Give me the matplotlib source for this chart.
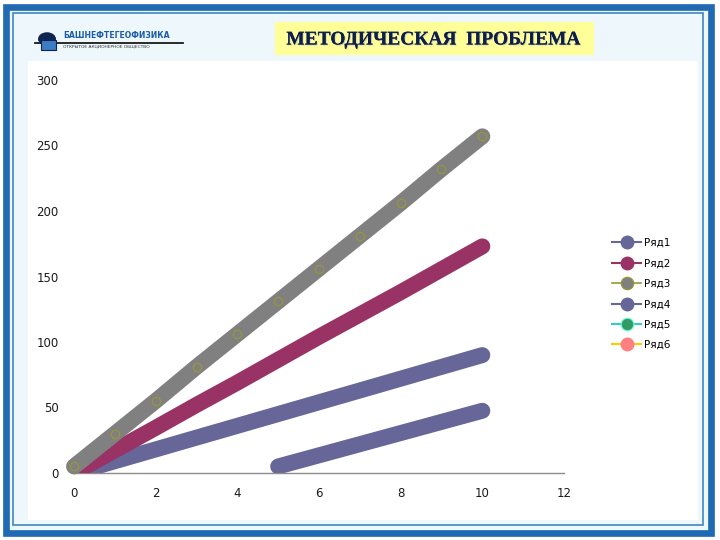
import matplotlib
matplotlib.use('Agg')
import matplotlib.pyplot as plt
from matplotlib.patches import Rectangle, Circle
from matplotlib.lines import Line2D
import matplotlib.patheffects as pe

# series data
x_full = [0, 1, 2, 3, 4, 5, 6, 7, 8, 9, 10]
ryad1 = [0, 9, 18, 27, 36, 45, 54, 63, 72, 81, 90]
ryad2 = [0, 17.3, 34.5, 52, 69, 86.5, 104, 121, 138, 155.5, 173]
ryad3 = [5, 30, 55, 81, 106, 131, 156, 181, 206, 232, 257]
x_half = [5, 6, 7, 8, 9, 10]
ryad4 = [5, 13.5, 22, 30.5, 39, 47.5]
ryad5 = []
ryad6 = []

labels = ['Ряд1', 'Ряд2', 'Ряд3', 'Ряд4', 'Ряд5', 'Ряд6']
xticks = [0, 2, 4, 6, 8, 10, 12]
yticks = [0, 50, 100, 150, 200, 250, 300]

W, H = 720, 540
fig = plt.figure(figsize=(7.2, 5.4), dpi=100)
fig.patch.set_facecolor('white')


def px_rect(x0, y0, x1, y1, **kw):
    # rectangle given in pixel coords (top-left origin)
    return Rectangle((x0 / W, 1 - y1 / H), (x1 - x0) / W, (y1 - y0) / H,
                     transform=fig.transFigure, **kw)


# slide frame
fig.patches.append(px_rect(6.5, 6.5, 710.5, 532.5, facecolor='#EEF8FC',
                           edgecolor='#1F6AB2', lw=4.8, zorder=0))
fig.patches.append(px_rect(13, 13, 703, 525, facecolor='none',
                           edgecolor='#3F86C6', lw=1.2, zorder=1))
fig.patches.append(px_rect(28, 61, 698, 520, facecolor='white',
                           edgecolor='none', zorder=1))

# title box
fig.patches.append(px_rect(275, 22, 594, 55, facecolor='#FFFF99',
                           edgecolor='none', zorder=2))
fig.text(434 / W, 1 - 40 / H, 'МЕТОДИЧЕСКАЯ  ПРОБЛЕМА', ha='center', va='center',
         fontsize=14, fontweight='bold', family='Liberation Serif', color='#0D1E4A',
         zorder=3, path_effects=[pe.withSimplePatchShadow(offset=(0.7, -0.7), shadow_rgbFace='#b0b0b0', alpha=0.6),
                                 pe.Normal()])

# logo
fig.lines.append(Line2D([35 / W, 183 / W], [1 - 43 / H, 1 - 43 / H], transform=fig.transFigure,
                        color='#1a1a1a', lw=1.3, zorder=2))
fig.patches.append(Circle((47 / W, 1 - 39 / H), 9 / W, transform=fig.transFigure,
                          facecolor='#0F2450', edgecolor='none', zorder=3))
fig.patches.append(px_rect(41, 40, 56, 50, facecolor='#3C7CC4', edgecolor='#0F2450',
                           lw=0.8, zorder=4))
fig.text(63 / W, 1 - 35 / H, 'БАШНЕФТЕГЕОФИЗИКА', ha='left', va='center', fontsize=5.6,
         fontweight='bold', color='#1A5CA8', zorder=3)
fig.text(63 / W, 1 - 46.5 / H, 'ОТКРЫТОЕ АКЦИОНЕРНОЕ ОБЩЕСТВО', ha='left', va='center',
         fontsize=3.2, color='#333333', zorder=3)

# chart
ax = fig.add_axes([74 / W, 67 / H, 490 / W, 393 / H])
ax.set_facecolor('none')
ax.set_zorder(5)

ax.plot(x_full, ryad1, color='#666699', lw=11.5, solid_capstyle='round', zorder=2)
ax.plot(x_full, ryad2, color='#993366', lw=11.5, solid_capstyle='round', zorder=3)
ax.plot(x_full, ryad3, color='#808080', lw=11.5, solid_capstyle='round', zorder=4, clip_on=False)
ax.plot(x_full, ryad3, ls='none', marker='o', ms=6, mfc='none', mec='#999933', mew=0.8,
        zorder=5, clip_on=False)
ax.plot(x_half, ryad4, color='#666699', lw=11.5, solid_capstyle='round', zorder=2)
ax.plot(ryad5, ryad5, color='#33CCCC')
ax.plot(ryad6, ryad6, color='#FF9900')

ax.set_xlim(0, 12)
ax.set_ylim(0, 300)
ax.set_xticks(xticks)
ax.set_yticks(yticks)
for s in ['top', 'right', 'left']:
    ax.spines[s].set_visible(False)
ax.spines['bottom'].set_color('#8c8c8c')
ax.spines['bottom'].set_linewidth(1.0)
ax.tick_params(axis='both', length=0, labelsize=8.5, labelcolor='#1a1a1a')
ax.tick_params(axis='y', pad=11)
ax.tick_params(axis='x', pad=10)

handles = [
    Line2D([], [], color='#666699', lw=1.5, marker='o', ms=9, mfc='#666699', mec='#666699'),
    Line2D([], [], color='#993366', lw=1.5, marker='o', ms=9, mfc='#993366', mec='#993366'),
    Line2D([], [], color='#999933', lw=1.2, marker='o', ms=9, mfc='#808080', mec='#999933', mew=0.8),
    Line2D([], [], color='#666699', lw=1.5, marker='o', ms=9, mfc='#666699', mec='#666699'),
    Line2D([], [], color='#33CCCC', lw=1.5, marker='o', ms=9, mfc='#339966', mec='#66FFCC', mew=0.8),
    Line2D([], [], color='#FFCC00', lw=1.5, marker='o', ms=9, mfc='#FF8080', mec='#FF8080'),
]
fig.legend(handles, labels, loc='upper left', bbox_to_anchor=(612 / W, 1 - 238 / H),
           frameon=False, fontsize=7.5, handlelength=2.8, handletextpad=0.3,
           labelspacing=1.0, borderpad=0, borderaxespad=0)

fig.savefig('out.png', dpi=100)
